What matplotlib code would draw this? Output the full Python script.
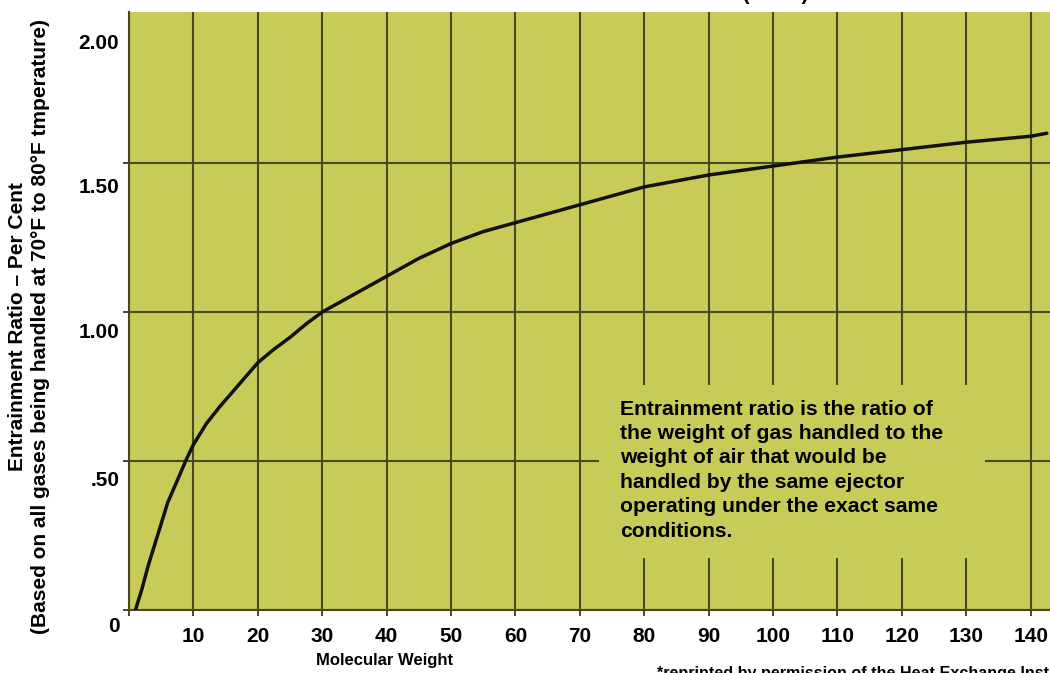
import matplotlib
matplotlib.use("Agg")
import matplotlib.pyplot as plt
import matplotlib.transforms as mtransforms
from matplotlib.patches import Rectangle

plt.rcParams['font.family'] = ['Liberation Sans', 'DejaVu Sans']
plt.rcParams['font.weight'] = 'bold'

# curve
mol_weight = [1, 2, 3, 4, 5, 6, 7, 8, 9, 10, 12, 14, 16, 18, 20, 22.5, 25, 27.5,
              30, 35, 40, 45, 50, 55, 60, 65, 70, 75, 80, 85, 90, 95, 100,
              110, 120, 130, 140, 142.5]
ratio = [0.0, 0.07, 0.15, 0.22, 0.29, 0.36, 0.41, 0.46, 0.51, 0.555, 0.625, 0.68, 0.73,
         0.78, 0.83, 0.875, 0.915, 0.96, 1.00, 1.06, 1.12, 1.18, 1.23, 1.27, 1.30,
         1.33, 1.36, 1.39, 1.42, 1.44, 1.46, 1.475, 1.49, 1.52, 1.545, 1.57, 1.59, 1.60]

x_ticks = [10, 20, 30, 40, 50, 60, 70, 80, 90, 100, 110, 120, 130, 140]
y_ticks = [0, 0.5, 1.0, 1.5, 2.0]
y_labels = ['0', '.50', '1.00', '1.50', '2.00']

note = ("Entrainment ratio is the ratio of\n"
        "the weight of gas handled to the\n"
        "weight of air that would be\n"
        "handled by the same ejector\n"
        "operating under the exact same\n"
        "conditions.")

bg = '#c8cb58'
gridc = '#4a4820'

fig = plt.figure(figsize=(10.5, 6.73), dpi=100)
ax = fig.add_axes([129/1050, 63/673, 921/1050, 598/673])
ax.set_facecolor(bg)

ax.set_xlim(0, 143)
ax.set_ylim(0, 2.007)
ax.set_xticks(x_ticks)
ax.set_xticks(range(0, 150, 10), minor=True)
ax.set_yticks(y_ticks)
ax.set_yticklabels(y_labels)
ax.set_axisbelow(True)
ax.grid(True, which='both', color=gridc, linewidth=1.5)

ax.tick_params(axis='both', direction='out', length=4, width=1.4, color=gridc,
               labelsize=15)
ax.tick_params(axis='x', which='minor', length=4, width=1.4, color=gridc)
ax.tick_params(axis='x', pad=8)
ax.tick_params(axis='y', pad=3)

# no line along the top edge
ax.yaxis.get_gridlines()[-1].set_visible(False)
ax.yaxis.get_major_ticks()[-1].tick1line.set_visible(False)

# y labels sit a bit below their lines in the original
offs = [15, 17, 18, 22, 27]
for lab, o in zip(ax.get_yticklabels(), offs):
    lab.set_transform(lab.get_transform() +
                      mtransforms.ScaledTranslation(0, -o/100, fig.dpi_scale_trans))

for s in ['top', 'right']:
    ax.spines[s].set_visible(False)
for s in ['left', 'bottom']:
    ax.spines[s].set_color(gridc)
    ax.spines[s].set_linewidth(1.5)

ax.plot(mol_weight, ratio, color='#111111', linewidth=2.5, zorder=3,
        solid_capstyle='round', solid_joinstyle='round')

# box behind the note hides the grid
ax.add_patch(Rectangle((0.510, 0.087), 0.419, 0.289, transform=ax.transAxes,
                       facecolor=bg, edgecolor='none', zorder=2))
ax.text(0.533, 0.352, note, transform=ax.transAxes, fontsize=15.2,
        fontweight='bold', va='top', ha='left', linespacing=1.36, zorder=4)

fig.text(385/1050, 1 - 660/673, 'Molecular Weight', ha='center', va='center',
         fontsize=12, fontweight='bold')
fig.text(29/1050, 1 - 327/673,
         'Entrainment Ratio \u2013 Per Cent\n'
         '(Based on all gases being handled at 70\u00b0F to 80\u00b0F tmperature)',
         rotation=90, ha='center', va='center', fontsize=15, fontweight='bold',
         linespacing=1.22)
fig.text(657/1050, 1 - 666/673,
         '*reprinted by permission of the Heat Exchange Institute',
         ha='left', va='top', fontsize=11.6, fontweight='bold')
# title mostly outside the top of the picture
fig.text(808/1050, 1 - 0.5/673, 'ENTRAINMENT RATIO CURVE (H.E.I.)',
         ha='right', va='baseline', fontsize=15, fontweight='bold')

fig.savefig('out.png', dpi=100)
